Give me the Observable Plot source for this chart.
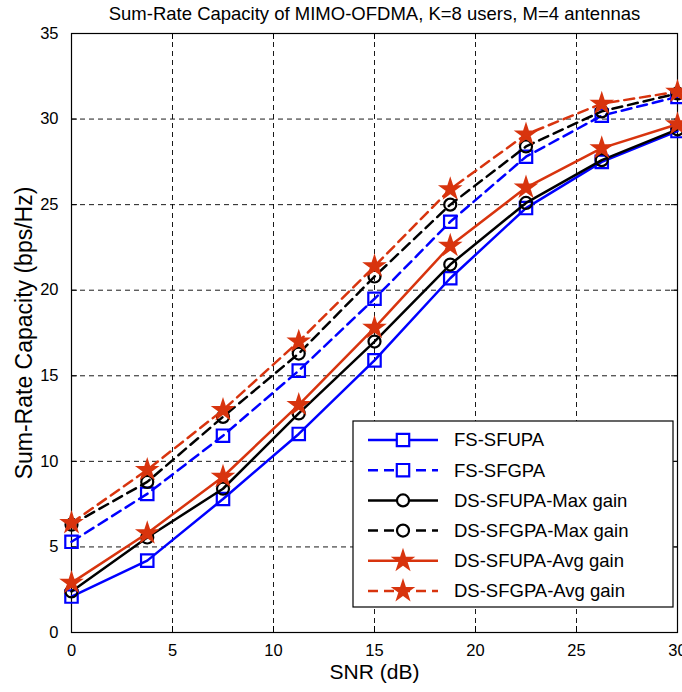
<!DOCTYPE html>
<html><head><meta charset="utf-8">
<script src="https://cdn.jsdelivr.net/npm/d3@7"></script>
<script src="https://cdn.jsdelivr.net/npm/@observablehq/plot@0.6"></script>
<style>
body{margin:0;background:#fff}
svg{font-family:"Liberation Sans",Arial,Helvetica,sans-serif}
</style>
</head><body><div id="chart"></div>
<script>
const snr = [0, 3.75, 7.5, 11.25, 15, 18.75, 22.5, 26.25, 30];
const fsSfupa   = [2.1, 4.2, 7.8, 11.6, 15.9, 20.7, 24.8, 27.5, 29.3];
const fsSfgpa   = [5.3, 8.1, 11.5, 15.3, 19.5, 24.0, 27.8, 30.2, 31.3];
const dsSfupaMax = [2.4, 5.55, 8.4, 12.8, 17.0, 21.5, 25.1, 27.6, 29.4];
const dsSfgpaMax = [6.3, 8.8, 12.6, 16.3, 20.8, 25.0, 28.4, 30.45, 31.5];
const dsSfupaAvg = [2.9, 5.8, 9.1, 13.3, 17.8, 22.6, 26.0, 28.3, 29.7];
const dsSfgpaAvg = [6.4, 9.5, 13.0, 17.0, 21.4, 25.9, 29.1, 30.9, 31.6];
const seriesNames = ["FS-SFUPA","FS-SFGPA","DS-SFUPA-Max gain","DS-SFGPA-Max gain","DS-SFUPA-Avg gain","DS-SFGPA-Avg gain"];
const xTicks = [0, 5, 10, 15, 20, 25, 30];
const yTicks = [0, 5, 10, 15, 20, 25, 30, 35];
const titleText = "Sum-Rate Capacity of MIMO-OFDMA, K=8 users, M=4 antennas";
const xLabel = "SNR (dB)";
const yLabel = "Sum-Rate Capacity (bps/Hz)";

const RED = "#d8340e", BLUE = "#0000ff", BLACK = "#000000";
const styles = [
  {color: BLUE, dash: null, symbol: "square", r: 7.0, fill: "none"},
  {color: BLUE, dash: "10,6", symbol: "square", r: 7.0, fill: "none"},
  {color: BLACK, dash: null, symbol: "circle", r: 6, fill: "none"},
  {color: BLACK, dash: "10,6", symbol: "circle", r: 6, fill: "none"},
  {color: RED, dash: null, symbol: "star", r: 5.6, fill: RED},
  {color: RED, dash: "10,6", symbol: "star", r: 5.6, fill: RED}
];
const valuesList = [fsSfupa, fsSfgpa, dsSfupaMax, dsSfgpaMax, dsSfupaAvg, dsSfgpaAvg];
const series = seriesNames.map((name, k) => ({name, ...styles[k], data: snr.map((x, i) => ({x, y: valuesList[k][i]}))}));

const W = 682, H = 692, mL = 71, mR = 5, mT = 33, mB = 60;
const ph = H - mT - mB;
const tick = 6;

const marks = [
  Plot.ruleX(xTicks, {stroke: "black", strokeWidth: 0.9, strokeDasharray: "5,4"}),
  Plot.ruleY(yTicks, {stroke: "black", strokeWidth: 0.9, strokeDasharray: "5,4"}),
  Plot.ruleX(xTicks, {stroke: "black", strokeWidth: 1, insetTop: ph - tick}),
  Plot.ruleX(xTicks, {stroke: "black", strokeWidth: 1, insetBottom: ph - tick}),
  Plot.ruleY(yTicks, {stroke: "black", strokeWidth: 1, insetRight: (W - mL - mR) - tick}),
  Plot.ruleY(yTicks, {stroke: "black", strokeWidth: 1, insetLeft: (W - mL - mR) - tick}),
  Plot.frame({stroke: "black", strokeWidth: 1.2}),
  Plot.axisX({ticks: xTicks, tickSize: 0, tickPadding: 12, fontSize: 16.5, label: null}),
  Plot.axisY({ticks: yTicks, tickSize: 0, tickPadding: 13, fontSize: 16.5, label: null}),
];
for (const s of series) {
  marks.push(Plot.line(s.data, {x: "x", y: "y", stroke: s.color, strokeWidth: 2.5, strokeDasharray: s.dash}));
  marks.push(Plot.dot(s.data, {x: "x", y: "y", symbol: s.symbol, r: s.r, stroke: s.color, strokeWidth: 2.2, fill: s.fill}));
}
marks.push(Plot.text([titleText], {frameAnchor: "top", lineAnchor: "middle", dy: -19, fontSize: 18.5, fill: "black"}));
marks.push(Plot.text([xLabel], {frameAnchor: "bottom", lineAnchor: "middle", dy: 40, fontSize: 21, fill: "black"}));
marks.push(Plot.text([yLabel], {frameAnchor: "left", textAnchor: "middle", lineAnchor: "middle", dx: -47, rotate: -90, fontSize: 23, fill: "black"}));

const chart = Plot.plot({
  width: W, height: H,
  marginLeft: mL, marginRight: mR, marginTop: mT, marginBottom: mB,
  x: {domain: [0, 30]},
  y: {domain: [0, 35]},
  style: {background: "white", color: "black", fontFamily: '"Liberation Sans", Arial, Helvetica, sans-serif'},
  marks
});
document.getElementById("chart").appendChild(chart);

// legend inside the plot area
const svg = d3.select(chart);
const lg = svg.append("g").attr("text-anchor", "start");
const bx = 353, by = 421, bw = 320, bh = 186;
lg.append("rect").attr("x", bx).attr("y", by).attr("width", bw).attr("height", bh)
  .attr("fill", "white").attr("stroke", "black").attr("stroke-width", 1.2);
const symMap = {square: d3.symbolSquare, circle: d3.symbolCircle, star: d3.symbolStar};
series.forEach((s, i) => {
  const cy = by + 19 + i * 30.2;
  lg.append("line").attr("x1", 368).attr("x2", 438).attr("y1", cy).attr("y2", cy)
    .attr("stroke", s.color).attr("stroke-width", 2.5).attr("stroke-dasharray", s.dash);
  lg.append("path").attr("d", d3.symbol(symMap[s.symbol], Math.PI * s.r * s.r)())
    .attr("transform", `translate(403,${cy})`)
    .attr("fill", s.fill === "none" ? "white" : s.fill).attr("stroke", s.color).attr("stroke-width", 2.2);
  lg.append("text").attr("x", 454).attr("y", cy).attr("dy", "0.35em").attr("text-anchor", "start")
    .attr("font-size", 18.5).attr("fill", "black").text(s.name);
});
</script>
</body></html>
